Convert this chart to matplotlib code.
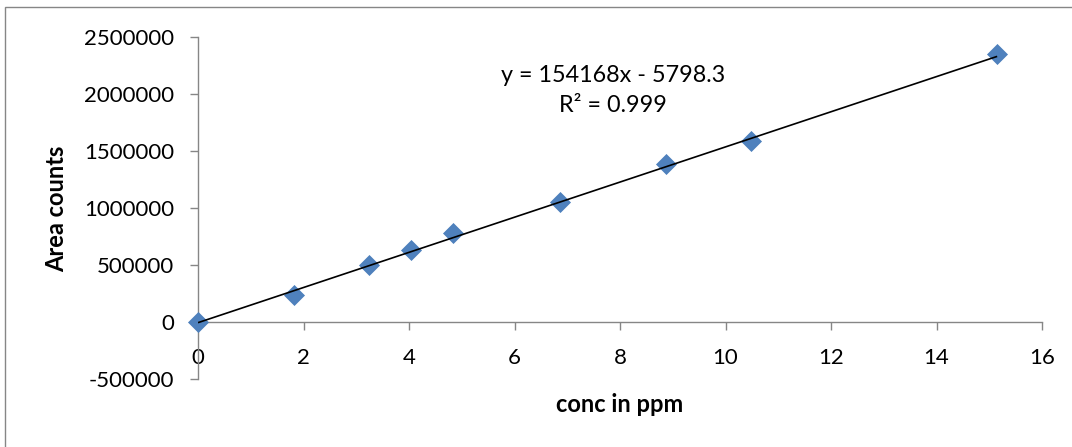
import matplotlib
matplotlib.use("Agg")
import matplotlib.pyplot as plt
from matplotlib.patches import Rectangle
import numpy as np

# Data
conc_ppm = [0.0, 1.82, 3.24, 4.04, 4.84, 6.86, 8.88, 10.49, 15.15]
area_counts = [0, 240000, 497000, 635000, 782000, 1057000, 1382000, 1590000, 2349000]
slope = 154168
intercept = -5798.3
r_squared = 0.999
x_ticks = [0, 2, 4, 6, 8, 10, 12, 14, 16]
y_ticks = [-500000, 0, 500000, 1000000, 1500000, 2000000, 2500000]
equation_text = "y = 154168x - 5798.3"
r2_text = "R² = 0.999"
x_label = "conc in ppm"
y_label = "Area counts"

plt.rcParams['font.family'] = ['Lato', 'DejaVu Sans']

W, H = 1072, 447
fig = plt.figure(figsize=(W / 100, H / 100), dpi=100)
ax = fig.add_axes([198 / W, 1 - 379 / H, (1042 - 198) / W, (379 - 37) / H])

axis_gray = '#868686'

ax.set_xlim(0, 16)
ax.set_ylim(-500000, 2500000)
ax.set_xticks(x_ticks)
ax.set_yticks(y_ticks)
ax.set_xticklabels([str(v) for v in x_ticks])
ax.set_yticklabels([str(v) for v in y_ticks])

for s in ['top', 'right']:
    ax.spines[s].set_visible(False)
ax.spines['bottom'].set_position(('data', 0))
ax.spines['bottom'].set_color(axis_gray)
ax.spines['left'].set_color(axis_gray)
ax.spines['bottom'].set_linewidth(1.0)
ax.spines['left'].set_linewidth(1.0)

ax.tick_params(axis='x', direction='out', length=6, width=1.0, color=axis_gray,
               labelsize=16, pad=13, labelcolor='black')
ax.tick_params(axis='y', direction='out', length=6, width=1.0, color=axis_gray,
               labelsize=16, pad=11, labelcolor='black')

# Scatter markers
ax.plot(conc_ppm, area_counts, linestyle='none', marker='D', markersize=10,
        markerfacecolor='#4F81BD', markeredgecolor='#4A7EBB', markeredgewidth=0.5,
        zorder=3, clip_on=False)

# Trendline
xt = np.array([min(conc_ppm), max(conc_ppm)])
ax.plot(xt, slope * xt + intercept, color='black', linewidth=1.2, zorder=4,
        solid_capstyle='butt')

# Equation label
fig.text(613 / W, 1 - 75 / H, equation_text, fontsize=16.8, ha='center', va='center')
fig.text(613 / W, 1 - 106 / H, r2_text, fontsize=16.8, ha='center', va='center')

# Axis labels
fig.text(57 / W, 1 - 209 / H, y_label, fontsize=17, fontweight='bold',
         rotation=90, ha='center', va='center')
fig.text(620 / W, 1 - 405 / H, x_label, fontsize=17, fontweight='bold',
         ha='center', va='center')

# Outer chart border (right and bottom fall outside the image)
fig.patches.append(Rectangle((5 / W, -0.1), 1.2, 1 - 7 / H + 0.1,
                             transform=fig.transFigure, fill=False,
                             edgecolor=axis_gray, linewidth=1.0))

fig.savefig('out.png', dpi=100)
